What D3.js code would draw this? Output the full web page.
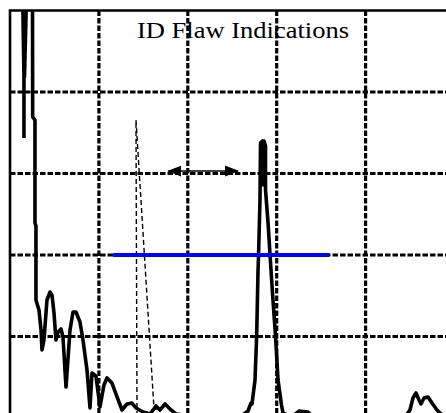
<!DOCTYPE html>
<html>
<head>
<meta charset="utf-8">
<script src="https://cdn.jsdelivr.net/npm/d3@7"></script>
<style>
  html, body { margin: 0; padding: 0; background: #fff; }
  svg { display: block; }
</style>
</head>
<body>
<script>
// A-scan screen: positions and amplitudes in screen divisions
const title = "ID Flaw Indications";
const gridX = [1, 2, 3, 4];
const gridY = [1, 2, 3, 4];

// Main echo trace (time, amplitude)
const signalX = [0.157, 0.157, 0.142, 0.163, 0.186, 0.253, 0.255, 0.281, 0.281, 0.292, 0.292,
  0.326, 0.349, 0.360, 0.382, 0.416, 0.450, 0.472, 0.495, 0.517, 0.540,
  0.574, 0.596, 0.630, 0.675, 0.709, 0.742, 0.787, 0.821, 0.866, 0.900,
  0.922, 0.967, 1.012, 1.057, 1.091, 1.147, 1.204, 1.260, 1.316, 1.372,
  1.417, 1.496, 1.575, 1.642, 1.687, 1.744, 1.800, 1.867, 2.137, 2.587,
  2.677, 2.711, 2.722, 2.756, 2.775, 2.790, 2.796, 2.812, 2.818, 2.840,
  2.846, 2.857, 2.874, 2.874, 2.902, 2.925, 2.958, 2.986, 3.015, 3.054, 3.071, 3.172,
  3.251, 3.352, 3.408, 4.443, 4.499, 4.533, 4.567, 4.601, 4.623, 4.657,
  4.702, 4.747, 4.803, 4.848, 4.949];
const signalY = [3.436, 4.196, 5.190, 4.184, 5.190, 5.190, 3.693, 3.656, 2.393, 2.356, 1.448,
  1.325, 1.080, 0.834, 0.957, 1.448, 1.546, 1.509, 1.288, 0.957, 1.055,
  1.092, 0.994, 0.380, 1.080, 1.301, 1.301, 1.178, 0.957, 0.589, 0.123,
  0.552, 0.515, 0.135, 0.405, 0.491, 0.429, 0.258, 0.098, 0.172, 0.184,
  0.123, 0.074, 0.049, 0.147, 0.098, 0.172, 0.110, 0.049, 0.012, 0.012,
  0.086, 0.184, 0.172, 0.466, 1.018, 1.816, 2.000, 2.675, 3.374, 3.399,
  2.860, 3.399, 3.337, 2.798, 2.405, 2.000, 1.448, 1.018, 0.466, 0.160, 0.061, 0.012,
  0.086, 0.074, 0.012, 0.012, 0.098, 0.245, 0.307, 0.221, 0.172, 0.245,
  0.258, 0.184, 0.098, 0.049, 0.012];

// Reference (dashed) trace
const refX = [1.429, 1.417, 1.620, 1.687];
const refY = [0.025, 3.656, 0.110, 0.110];

// Amplitude gate
const gateStart = 1.16, gateEnd = 3.59, gateLevel = 2.0;
// Separation marker between indications
const spanStart = 1.78, spanEnd = 2.565, spanLevel = 3.03;

const W = 446, H = 413;
const x = d3.scaleLinear().domain([0, 5]).range([10, 454.5]);
const y = d3.scaleLinear().domain([0, 5]).range([418, 10.5]);

const svg = d3.select("body").append("svg")
  .attr("width", W).attr("height", H)
  .attr("viewBox", `0 0 ${W} ${H}`);

const defs = svg.append("defs");
defs.append("clipPath").attr("id", "screen")
  .append("rect")
  .attr("x", x(0)).attr("y", y(5))
  .attr("width", W - x(0)).attr("height", H - y(5));
defs.append("marker").attr("id", "head")
  .attr("viewBox", "0 -6 14 12")
  .attr("refX", 13).attr("refY", 0)
  .attr("markerUnits", "userSpaceOnUse")
  .attr("markerWidth", 14).attr("markerHeight", 12)
  .attr("orient", "auto-start-reverse")
  .append("path").attr("d", "M0,-5.5L14,0L0,5.5Z").attr("fill", "#000");

const plot = svg.append("g").attr("clip-path", "url(#screen)");

// Dotted graticule
plot.append("g").selectAll("line").data(gridX).join("line")
  .attr("x1", d => x(d)).attr("x2", d => x(d))
  .attr("y1", y(5)).attr("y2", H)
  .attr("stroke", "#000").attr("stroke-width", 3.2)
  .attr("stroke-dasharray", "5.5,2");
plot.append("g").selectAll("line").data(gridY).join("line")
  .attr("y1", d => y(d)).attr("y2", d => y(d))
  .attr("x1", x(0)).attr("x2", W)
  .attr("stroke", "#000").attr("stroke-width", 3.2)
  .attr("stroke-dasharray", "5.5,2");

const line = d3.line().x(d => x(d[0])).y(d => y(d[1]));

// Dashed reference trace
plot.append("path")
  .datum(d3.zip(refX, refY))
  .attr("d", line)
  .attr("fill", "none").attr("stroke", "#000")
  .attr("stroke-width", 1.4).attr("stroke-dasharray", "5,3");

// Echo trace
plot.append("path")
  .datum(d3.zip(signalX, signalY))
  .attr("d", line)
  .attr("fill", "none").attr("stroke", "#000")
  .attr("stroke-width", 3.6).attr("stroke-linejoin", "round");

// Gate line
plot.append("line")
  .attr("x1", x(gateStart)).attr("x2", x(gateEnd))
  .attr("y1", y(gateLevel)).attr("y2", y(gateLevel))
  .attr("stroke", "#0000ff").attr("stroke-width", 3.8);

// Double-headed span arrow
plot.append("line")
  .attr("x1", x(spanStart)).attr("x2", x(spanEnd))
  .attr("y1", y(spanLevel)).attr("y2", y(spanLevel))
  .attr("stroke", "#000").attr("stroke-width", 1.6)
  .attr("marker-start", "url(#head)").attr("marker-end", "url(#head)");

// Title
svg.append("text")
  .attr("x", 137).attr("y", 37.5)
  .attr("font-family", "'Liberation Serif', 'Times New Roman', serif")
  .attr("font-size", 24)
  .attr("textLength", 212).attr("lengthAdjust", "spacingAndGlyphs")
  .attr("fill", "#000")
  .text(title);

// Screen frame (top and left edges)
svg.append("path")
  .attr("d", `M${x(0)},${H}V${y(5)}H${W}`)
  .attr("fill", "none").attr("stroke", "#000").attr("stroke-width", 2.6);
</script>
</body>
</html>
